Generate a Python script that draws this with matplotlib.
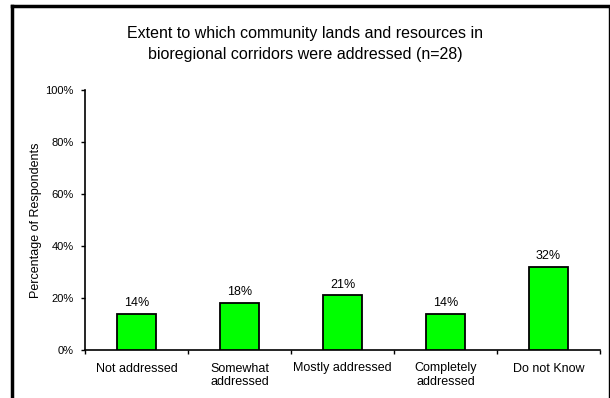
from matplotlib import pyplot as plt
from matplotlib import ticker
from matplotlib.lines import Line2D
import numpy as np

categories = ["Not addressed", "Somewhat\naddressed", "Mostly addressed",
              "Completely\naddressed", "Do not Know"]
values = [14, 18, 21, 14, 32]
value_labels = ["14%", "18%", "21%", "14%", "32%"]

plt.rcParams['font.family'] = ['Liberation Sans', 'DejaVu Sans']

fig = plt.figure(figsize=(6.10, 3.98), dpi=100, facecolor="white")
ax = fig.add_axes([85 / 610, 1 - 350 / 398, 515 / 610, 260 / 398])

x = np.arange(len(categories))
ax.bar(x, values, width=0.38, color="#00ff00", edgecolor="black", linewidth=1.3, zorder=3)
for xi, v, lab in zip(x, values, value_labels):
    ax.annotate(lab, (xi, v), xytext=(0, 3.5), textcoords="offset points",
                ha="center", va="bottom", fontsize=9)

ax.set_xlim(-0.5, len(categories) - 0.5)
ax.set_ylim(0, 100)
ax.yaxis.set_major_locator(ticker.MultipleLocator(20))
ax.yaxis.set_major_formatter(ticker.FuncFormatter(lambda v, p: f"{v:.0f}%"))
ax.set_xticks(np.arange(len(categories) + 1) - 0.5)
ax.set_xticklabels([])
ax.set_xticks(x, minor=True)
ax.set_xticklabels(categories, minor=True, fontsize=9, linespacing=1.2)
ax.tick_params(axis="x", which="minor", length=0, pad=9)
ax.tick_params(axis="x", which="major", length=3, width=1)
ax.tick_params(axis="y", length=3, width=1, labelsize=8, pad=5)

for side in ["top", "right"]:
    ax.spines[side].set_visible(False)
for side in ["left", "bottom"]:
    ax.spines[side].set_linewidth(1.2)

ax.set_ylabel("Percentage of Respondents", fontsize=9)
ax.yaxis.set_label_coords((42 - 85) / 515, 0.5)

fig.text(0.5, 1 - 44 / 398,
         "Extent to which community lands and resources in\nbioregional corridors were addressed (n=28)",
         ha="center", va="center", fontsize=11.5, linespacing=1.45)

# frame around the chart
fig.add_artist(Line2D([12.5 / 610, 12.5 / 610], [0, 1 - 5.5 / 398], color="black", linewidth=2.5))
fig.add_artist(Line2D([12.5 / 610, 1], [1 - 5.5 / 398, 1 - 5.5 / 398], color="black", linewidth=2.5))
fig.add_artist(Line2D([608.5 / 610, 608.5 / 610], [0, 1 - 5.5 / 398], color="black", linewidth=1))

plt.savefig("out.png", dpi=100, facecolor="white")
plt.close()
